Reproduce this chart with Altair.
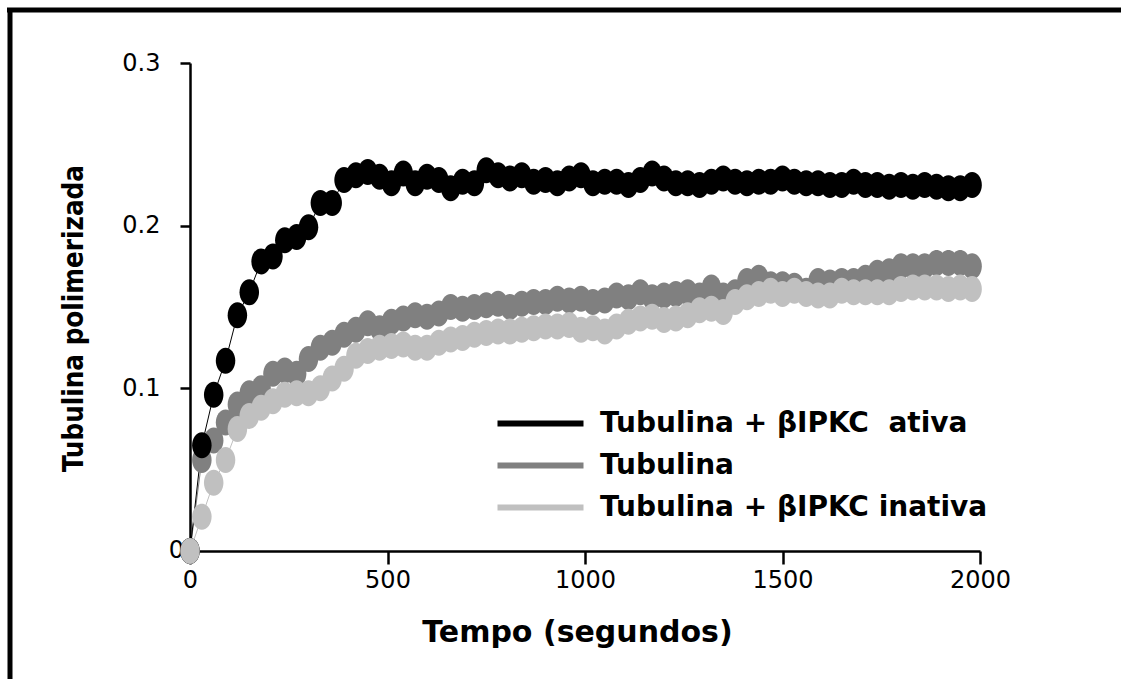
import altair as alt
import pandas as pd

# ---- data ----
tempo = [0, 30, 60, 90, 120, 150, 180, 210, 240, 270, 300, 330, 360, 390, 420, 450,
         480, 510, 540, 570, 600, 630, 660, 690, 720, 750, 780, 810, 840, 870, 900,
         930, 960, 990, 1020, 1050, 1080, 1110, 1140, 1170, 1200, 1230, 1260, 1290,
         1320, 1350, 1380, 1410, 1440, 1470, 1500, 1530, 1560, 1590, 1620, 1650,
         1680, 1710, 1740, 1770, 1800, 1830, 1860, 1890, 1920, 1950, 1980]

ativa = [0.000, 0.065, 0.096, 0.117, 0.145, 0.159, 0.178, 0.181, 0.191, 0.193,
         0.199, 0.214, 0.214, 0.228, 0.231, 0.233, 0.230, 0.226, 0.232, 0.226,
         0.230, 0.228, 0.223, 0.227, 0.226, 0.234, 0.231, 0.229, 0.231, 0.227,
         0.228, 0.226, 0.229, 0.231, 0.226, 0.227, 0.227, 0.225, 0.228, 0.232,
         0.229, 0.226, 0.226, 0.225, 0.227, 0.229, 0.227, 0.226, 0.227, 0.227,
         0.229, 0.227, 0.226, 0.226, 0.225, 0.225, 0.227, 0.225, 0.225, 0.224,
         0.225, 0.224, 0.225, 0.224, 0.223, 0.223, 0.225]

tubulina = [0.000, 0.056, 0.068, 0.079, 0.090, 0.097, 0.100, 0.109, 0.111, 0.109,
            0.118, 0.125, 0.128, 0.133, 0.136, 0.140, 0.137, 0.141, 0.143, 0.145,
            0.144, 0.146, 0.150, 0.149, 0.150, 0.151, 0.152, 0.150, 0.152, 0.153,
            0.153, 0.155, 0.154, 0.155, 0.153, 0.154, 0.157, 0.156, 0.159, 0.156,
            0.157, 0.158, 0.159, 0.157, 0.162, 0.157, 0.159, 0.166, 0.168, 0.164,
            0.164, 0.163, 0.160, 0.166, 0.165, 0.166, 0.166, 0.168, 0.171, 0.172,
            0.175, 0.175, 0.175, 0.177, 0.177, 0.177, 0.175]

inativa = [0.000, 0.021, 0.042, 0.056, 0.075, 0.083, 0.088, 0.092, 0.096, 0.097,
           0.097, 0.100, 0.106, 0.112, 0.120, 0.123, 0.125, 0.126, 0.127, 0.125,
           0.125, 0.128, 0.130, 0.131, 0.133, 0.134, 0.135, 0.135, 0.136, 0.137,
           0.138, 0.138, 0.139, 0.136, 0.137, 0.135, 0.138, 0.141, 0.143, 0.144,
           0.142, 0.143, 0.145, 0.148, 0.149, 0.147, 0.153, 0.156, 0.158, 0.160,
           0.158, 0.160, 0.158, 0.157, 0.157, 0.160, 0.159, 0.159, 0.159, 0.159,
           0.161, 0.162, 0.162, 0.162, 0.161, 0.162, 0.161]

series_names = ["Tubulina + \u03b2IPKC\u00a0 ativa", "Tubulina", "Tubulina + \u03b2IPKC inativa"]
series_colors = ["#000000", "#808080", "#c0c0c0"]
x_ticks = [0, 500, 1000, 1500, 2000]
y_ticks = [0, 0.1, 0.2, 0.3]

# drawing order: medium grey, black, light grey (light on top)
rows = []
for name, vals in [(series_names[1], tubulina), (series_names[0], ativa), (series_names[2], inativa)]:
    for t, v in zip(tempo, vals):
        rows.append({"t": t, "v": v, "serie": name})
df = pd.DataFrame(rows)

FONT = "DejaVu Sans"
ellipse = "M0,-1A0.75,1,0,1,1,0,1A0.75,1,0,1,1,0,-1Z"
legend_line = "M-3,0H3"

x_enc = alt.X("t:Q", scale=alt.Scale(domain=[0, 2000], nice=False, zero=False),
              axis=alt.Axis(values=x_ticks, title="Tempo (segundos)", format="d",
                            tickSize=13, labelPadding=4, labelFontSize=24, labelFlush=False,
                            titleFontSize=30, titleFontWeight="bold",
                            titleX=387, titleY=90, titleBaseline="alphabetic",
                            titleAlign="center"))
y_enc = alt.Y("v:Q", scale=alt.Scale(domain=[0, 0.3], nice=False),
              axis=alt.Axis(values=y_ticks, title="Tubulina polimerizada",
                            labelExpr="datum.value == 0 ? '' : format(datum.value, '.1f')",
                            tickSize=10, labelPadding=20, labelFontSize=24, labelFlush=False,
                            titleFont="Liberation Sans Narrow, DejaVu Sans Condensed, DejaVu Sans",
                            titleFontSize=27.5, titleFontWeight="bold", titleAngle=270,
                            titleX=-108, titleY=255, titleBaseline="alphabetic",
                            titleAlign="center"))
color_legend = alt.Color("serie:N",
                         scale=alt.Scale(domain=series_names, range=series_colors),
                         legend=alt.Legend(title=None, orient="none", legendX=333, legendY=343,
                                           symbolType=legend_line, symbolStrokeWidth=6,
                                           symbolSize=822, labelFont=FONT,
                                           labelFontSize=28, labelFontWeight="bold",
                                           labelColor="black", labelOffset=42, labelLimit=0,
                                           rowPadding=10, padding=0))
color_plain = alt.Color("serie:N",
                        scale=alt.Scale(domain=series_names, range=series_colors),
                        legend=None)

lines = alt.Chart(df).mark_line(strokeWidth=1).encode(x=x_enc, y=y_enc, color=color_legend)
points = alt.Chart(df).mark_point(shape=ellipse, filled=True, size=676, opacity=1,
                                  strokeWidth=0).encode(x=x_enc, y=y_enc, color=color_plain)

zero_df = pd.DataFrame({"t": [0], "v": [0.0], "lab": ["0"]})
zero_lab = alt.Chart(zero_df).mark_text(align="right", baseline="middle", dx=-6,
                                        fontSize=24, font=FONT, color="black").encode(
    x="t:Q", y="v:Q", text="lab:N")

frame_df = pd.DataFrame({"a": [0]})
frame_left = alt.Chart(frame_df).mark_rule(color="black", strokeWidth=5).encode(
    x=alt.value(-180), y=alt.value(-55), y2=alt.value(620))
frame_top = alt.Chart(frame_df).mark_rule(color="black", strokeWidth=5).encode(
    x=alt.value(-183), x2=alt.value(935), y=alt.value(-53))

chart = alt.layer(frame_left, frame_top, zero_lab, lines, points).properties(
    width=790, height=488,
    autosize=alt.AutoSizeParams(type="none"),
    padding={"left": 190, "top": 63, "right": 141, "bottom": 128},
    background="white",
).configure_view(stroke=None).configure_axis(
    grid=False, domainColor="black", domainWidth=2.5, tickColor="black", tickWidth=2.5,
    labelColor="black", titleColor="black", labelFont=FONT, titleFont=FONT,
    labelFontWeight="normal",
)

chart.save("out.html", embed_options={"renderer": "svg", "actions": False})
